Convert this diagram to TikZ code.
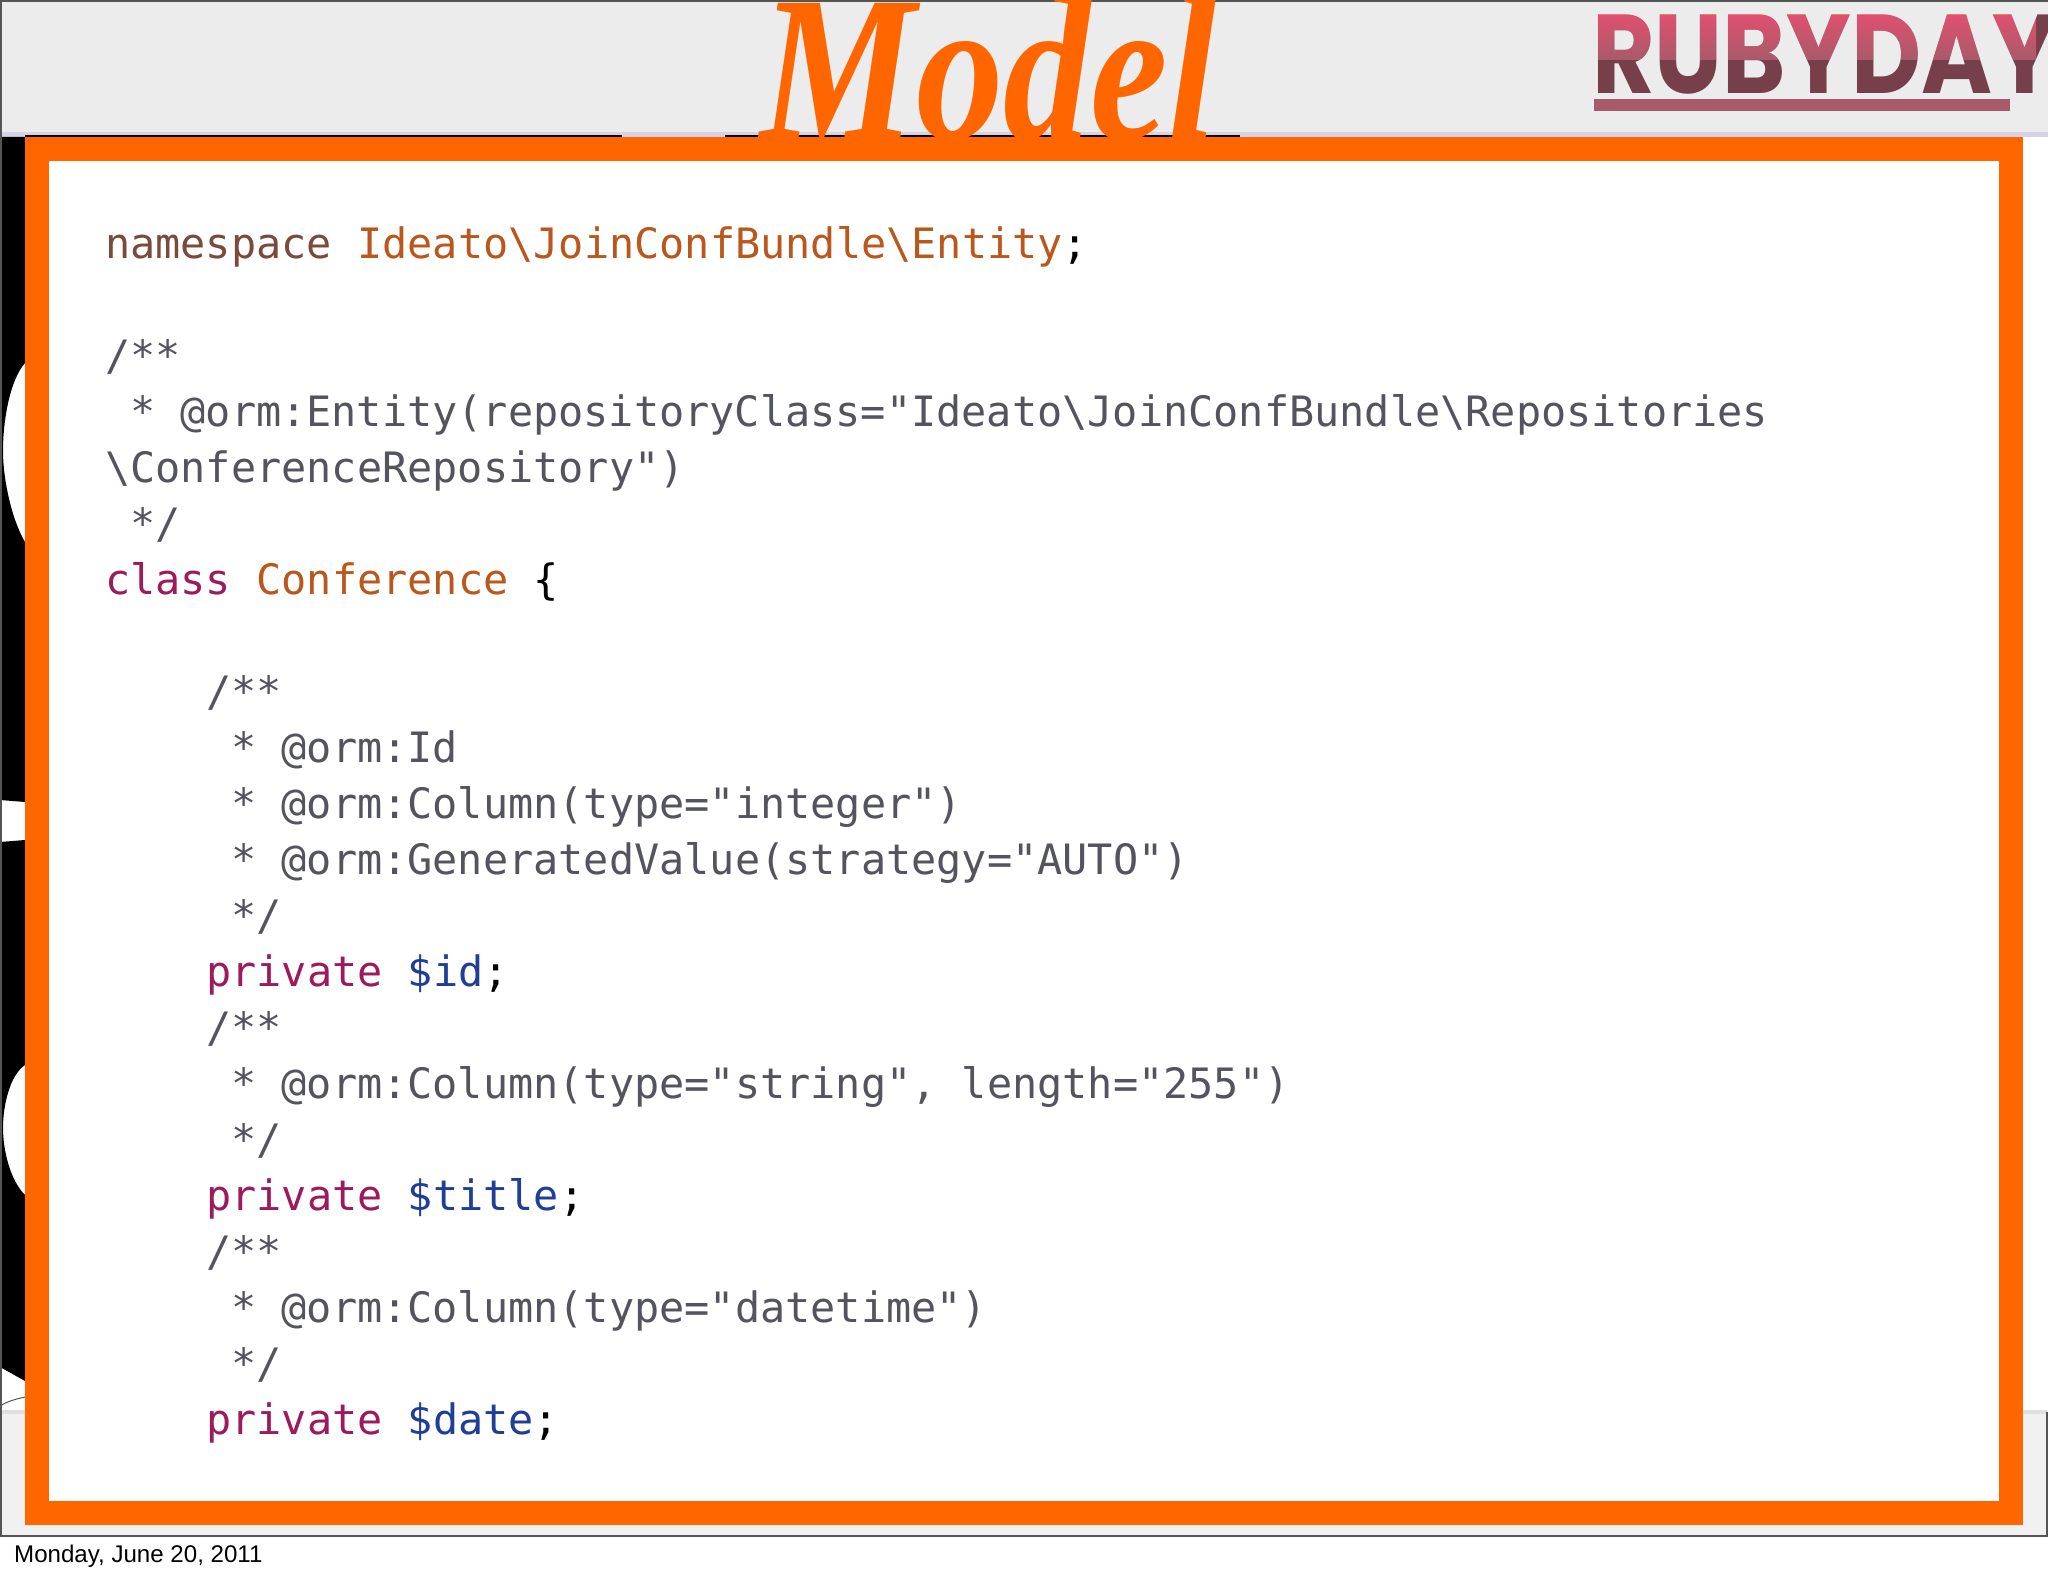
\documentclass[tikz,border=0pt]{standalone}
\usepackage{fontspec}
\newfontfamily\codefont{DejaVu Sans Mono}
\newfontfamily\titlefont{Liberation Serif}
\newfontfamily\logofont{Poppins}
\newfontfamily\datefont{Liberation Sans}
\definecolor{frameorange}{HTML}{FF6600}
\definecolor{headgray}{HTML}{ECECEC}
\definecolor{footgray}{HTML}{F1F1F1}
\definecolor{bandlilac}{HTML}{D6D3E6}
\definecolor{edgegray}{HTML}{555555}
\definecolor{kwbrown}{HTML}{7A4A3C}
\definecolor{nameorange}{HTML}{B9571C}
\definecolor{commentgray}{HTML}{54545E}
\definecolor{kwpurple}{HTML}{9C1B5B}
\definecolor{varblue}{HTML}{1F3F96}
\definecolor{logotop}{HTML}{E0506F}
\definecolor{logobot}{HTML}{A85A6A}
\newcommand{\bsl}{\textbackslash}
\newcommand{\nsw}[1]{\textcolor{kwbrown}{#1}}
\newcommand{\nmw}[1]{\textcolor{nameorange}{#1}}
\newcommand{\kww}[1]{\textcolor{kwpurple}{#1}}
\newcommand{\vrw}[1]{\textcolor{varblue}{#1}}
\tikzset{
  codeline/.style={anchor=base west,inner sep=0pt,text=commentgray,font=\codefont\fontsize{41.86}{50}\selectfont},
}
\begin{document}
\begin{tikzpicture}[x=1pt,y=-1pt]
        \useasboundingbox (0,0) rectangle (2048,1576);
        \fill[white] (0,0) rectangle (2048,1576);
        % slide behind the frame
        \fill[headgray] (0,2) rectangle (2048,132);
        \fill[bandlilac] (0,132) rectangle (2048,137);
        \fill[footgray] (0,1412) rectangle (2047,1535);
        \fill[black!12] (0,1410) rectangle (2047,1414);
        \fill[black] (0,137) -- (25,137) -- (25,363)
            .. controls (10,380) and (3,420) .. (3,451)
            .. controls (3,480) and (12,520) .. (25,542)
            -- (25,802) -- (0,800) -- (0,842) -- (25,840) -- (25,1065)
            .. controls (10,1075) and (3,1105) .. (3,1128)
            .. controls (3,1150) and (10,1180) .. (25,1195)
            -- (25,1381) -- (0,1367) -- cycle;
        \draw[edgegray,line width=1pt] (0,1406) .. controls (8,1401) and (16,1399) .. (25,1397);
        \draw[black,line width=1.5pt] (25,136) -- (622,136) (725,136) -- (1240,136);
        \draw[edgegray,line width=2pt] (0,1) -- (2048,1) (1,0) -- (1,1536) (0,1536) -- (2047,1536) -- (2047,1412);

        % logo
        \node[anchor=base west,inner sep=0pt,text=logobot!70!black,font=\logofont\bfseries\fontsize{112}{112}\selectfont,xscale=0.86] (logo) at (1592,94) {RUBYDAY};
        \fill[blend mode=lighten,top color=logotop,bottom color=logobot,shading angle=0] (1590,14) rectangle (2036,60);
        \fill[logobot] (1594,99) rectangle (2010,111);

        % frame
        \fill[frameorange] (25,137) rectangle (2023,1525);
        \fill[white] (49,161) rectangle (1999,1501);
        \node[anchor=base,inner sep=0pt,text=frameorange,font=\titlefont\bfseries\itshape\fontsize{208}{208}\selectfont,xscale=0.84] (title) at (989,140) {Model};

        % code
        \node[codeline] (ln0) at (105,258) {\nsw{namespace} \nmw{Ideato\bsl JoinConfBundle\bsl Entity}\textcolor{black}{;}};
        \node[codeline] (ln2) at (105,370) {/**};
        \node[codeline] (ln3) at (130,426) {* @orm:Entity(repositoryClass="Ideato\bsl JoinConfBundle\bsl Repositories};
        \node[codeline] (ln4) at (105,482) {\bsl ConferenceRepository")};
        \node[codeline] (ln5) at (130,538) {*/};
        \node[codeline] (ln6) at (105,594) {\kww{class} \nmw{Conference} \textcolor{black}{\{}};
        \node[codeline] (ln8) at (206,706) {/**};
        \node[codeline] (ln9) at (231,762) {* @orm:Id};
        \node[codeline] (ln10) at (231,818) {* @orm:Column(type="integer")};
        \node[codeline] (ln11) at (231,874) {* @orm:GeneratedValue(strategy="AUTO")};
        \node[codeline] (ln12) at (231,930) {*/};
        \node[codeline] (ln13) at (206,986) {\kww{private} \vrw{\$id}\textcolor{black}{;}};
        \node[codeline] (ln14) at (206,1042) {/**};
        \node[codeline] (ln15) at (231,1098) {* @orm:Column(type="string", length="255")};
        \node[codeline] (ln16) at (231,1154) {*/};
        \node[codeline] (ln17) at (206,1210) {\kww{private} \vrw{\$title}\textcolor{black}{;}};
        \node[codeline] (ln18) at (206,1266) {/**};
        \node[codeline] (ln19) at (231,1322) {* @orm:Column(type="datetime")};
        \node[codeline] (ln20) at (231,1378) {*/};
        \node[codeline] (ln21) at (206,1434) {\kww{private} \vrw{\$date}\textcolor{black}{;}};

        \node[anchor=base west,inner sep=0pt,font=\datefont\fontsize{24.1}{28}\selectfont] (stamp) at (14,1562) {Monday, June 20, 2011};
    \end{tikzpicture}
\end{document}
